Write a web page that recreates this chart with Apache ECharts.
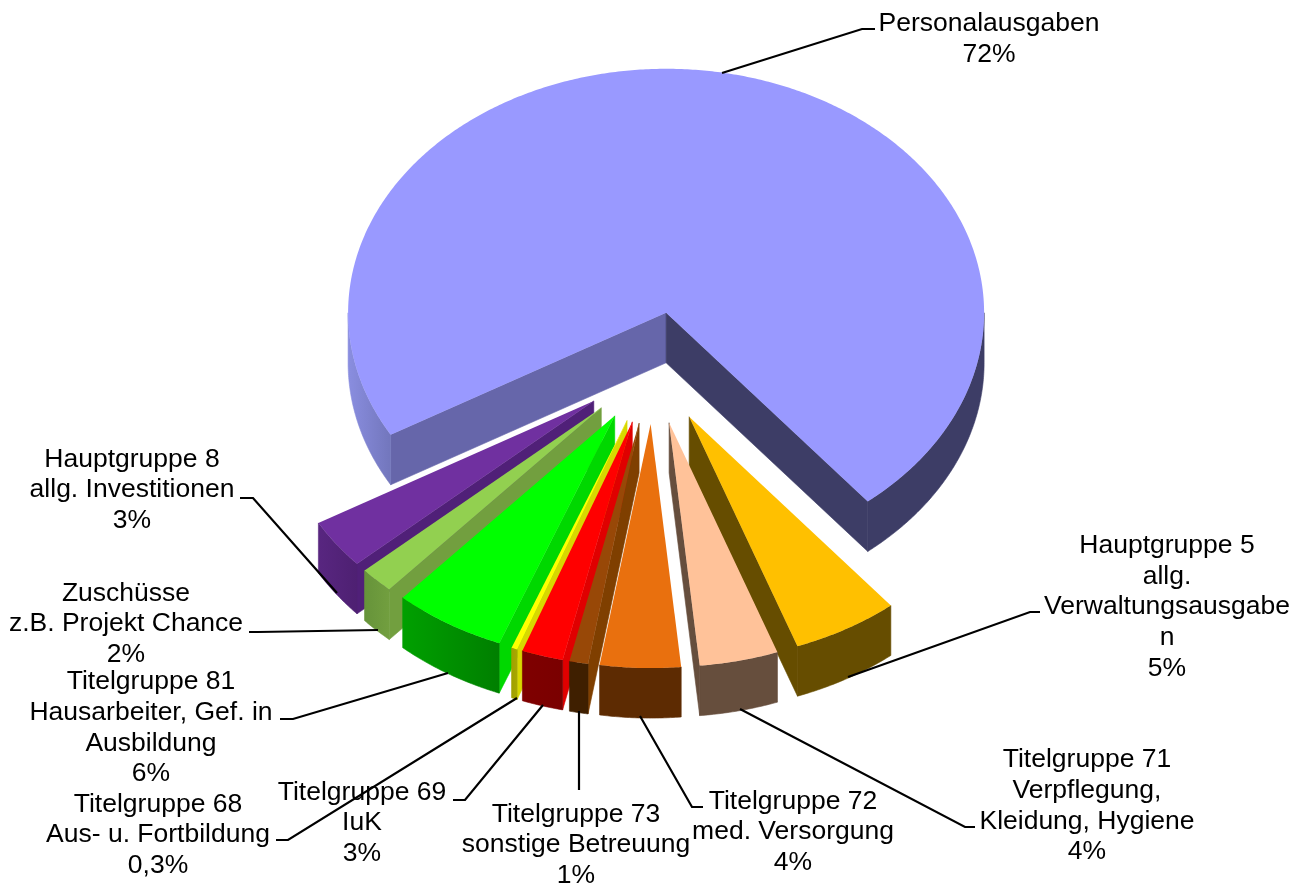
<!DOCTYPE html>
<html>
<head>
<meta charset="utf-8">
<title>Ausgaben</title>
<style>
  html, body { margin: 0; padding: 0; background: #fff; }
  #main { width: 1302px; height: 888px; }
</style>
</head>
<body>
<div id="main"></div>
<script src="https://cdn.jsdelivr.net/npm/echarts@6/dist/echarts.min.js"></script>
<script>
  // Anteile, von den Winkeln (im Uhrzeigersinn ab Personalausgaben)
  var categories = ['Personalausgaben', 'Hauptgruppe 5', 'Titelgruppe 71', 'Titelgruppe 72', 'Titelgruppe 73',
    'Titelgruppe 69', 'Titelgruppe 68', 'Titelgruppe 81', 'Zuschüsse', 'Hauptgruppe 8'];
  var values = [72.4, 5.4, 4.0, 4.1, 0.95, 2.1, 0.3, 5.7, 1.75, 3.3];
  var labelTexts = [
    'Personalausgaben\n72%',
    'Hauptgruppe 5\nallg.\nVerwaltungsausgabe\nn\n5%',
    'Titelgruppe 71\nVerpflegung,\nKleidung, Hygiene\n4%',
    'Titelgruppe 72\nmed. Versorgung\n4%',
    'Titelgruppe 73\nsonstige Betreuung\n1%',
    'Titelgruppe 69\nIuK\n3%',
    'Titelgruppe 68\nAus- u. Fortbildung\n0,3%',
    'Titelgruppe 81\nHausarbeiter, Gef. in\nAusbildung\n6%',
    'Zuschüsse\nz.B. Projekt Chance\n2%',
    'Hauptgruppe 8\nallg. Investitionen\n3%'
  ];

  // Farben
  var topColors = ['#9999FF', '#FFC000', '#FFC299', '#E9700E', '#984807', '#FF0000', '#FFFF00', '#00FF00', '#92D050', '#7030A0'];
  var sideStartColors = ['#6666AA', '#664D00', '#664E3D', '#5D2B02', '#7F3F00', '#E00000', '#D8D800', '#00D800', '#729F3F', '#502078'];
  var sideEndColors = ['#3D3D66', '#664D00', '#664E3D', '#5D2B02', '#7F3F00', '#E00000', '#D8D800', '#00D800', '#729F3F', '#502078'];
  var wallLeftColors = ['#8A8EE0', '#664D00', '#664E3D', '#5D2B02', '#3F1F00', '#7F0000', '#A0A000', '#00A000', '#66933A', '#582680'];
  var wallRightColors = ['#7276BC', '#664D00', '#664E3D', '#5D2B02', '#3F1F00', '#7A0000', '#A8A800', '#007F00', '#729F3F', '#4E2072'];

  // Lage der Torte
  var cx = 653, cy = 368, rx = 318, ry = 244, depth = 50, explode = 0.23;
  var startAngle = 240;

  // Beschriftung: Textmitte und Führungslinie
  var labelCenters = [[989, 39], [1167, 607], [1087, 806], [793, 832], [576, 845], [362, 823], [158, 835], [151, 728], [126, 624], [132, 490]];
  var leaders = [
    [[722, 73], [862, 29], [875, 29]],
    [[848, 677], [1030, 612], [1040, 612]],
    [[740, 709], [965, 827], [975, 827]],
    [[640, 716], [692, 807], [703, 807]],
    [[579, 711], [579, 790]],
    [[543, 705], [465, 800], [453, 800]],
    [[517, 698], [288, 840], [276, 840]],
    [[448, 673], [293, 719], [280, 719]],
    [[378, 630], [258, 632], [249, 632]],
    [[337, 593], [253, 498], [240, 498]]
  ];

  var total = values.reduce(function (a, b) { return a + b; }, 0);
  var starts = [];
  values.reduce(function (acc, v) { starts.push(acc); return acc + v; }, 0);

  function rad(d) { return d * Math.PI / 180; }

  // Punkt auf der Ellipse, Winkel im Uhrzeigersinn von oben
  function rim(c, a) {
    return [c[0] + rx * Math.sin(rad(a)), c[1] - ry * Math.cos(rad(a))];
  }

  function arc(c, a0, a1) {
    var pts = [];
    var n = Math.max(2, Math.ceil((a1 - a0) * 2));
    for (var i = 0; i <= n; i++) {
      pts.push(rim(c, a0 + (a1 - a0) * i / n));
    }
    return pts;
  }

  function down(pts) {
    return pts.map(function (p) { return [p[0], p[1] + depth]; });
  }

  // Schnittfläche sichtbar, wenn die Extrusion nicht zur Innenseite zeigt
  function sideVisible(apex, edge, inner) {
    var dx = edge[0] - apex[0], dy = edge[1] - apex[1];
    var crossInner = dx * (inner[1] - apex[1]) - dy * (inner[0] - apex[0]);
    var crossDown = dx * depth;
    return crossInner * crossDown < 0;
  }

  function poly(points, fill, z2) {
    return {
      type: 'polygon',
      z2: z2,
      shape: { points: points },
      style: { fill: fill, stroke: fill, lineWidth: 0.6 }
    };
  }

  function renderSlice(params, api) {
    var i = params.dataIndex;
    var a0 = startAngle + starts[i] / total * 360;
    var a1 = a0 + api.value(0) / total * 360;
    var mid = (a0 + a1) / 2;
    // nach vorn liegende Stücke zuletzt zeichnen
    var m = ((mid % 360) + 360) % 360;
    var z2 = 200 - Math.round(Math.abs(m - 180));
    var c = [cx + explode * rx * Math.sin(rad(mid)), cy - explode * ry * Math.cos(rad(mid))];
    var children = [];
    var p0 = rim(c, a0), p1 = rim(c, a1), pm = rim(c, mid);

    if (sideVisible(c, p0, pm)) {
      children.push(poly([c, p0, [p0[0], p0[1] + depth], [c[0], c[1] + depth]], sideStartColors[i], z2));
    }
    if (sideVisible(c, p1, pm)) {
      children.push(poly([c, p1, [p1[0], p1[1] + depth], [c[0], c[1] + depth]], sideEndColors[i], z2));
    }

    // Außenwand nur in der unteren Hälfte der Ellipse
    for (var k = 0; k < 3; k++) {
      var from = Math.max(a0, 90 + 360 * k);
      var to = Math.min(a1, 270 + 360 * k);
      if (to <= from) continue;
      var top = arc(c, from, to);
      var fill;
      if ((from + to) / 2 - 360 * k < 180) {
        fill = sideEndColors[i];
      } else {
        fill = new echarts.graphic.LinearGradient(0, 0, 1, 0, [
          { offset: 0, color: wallLeftColors[i] },
          { offset: 1, color: wallRightColors[i] }
        ]);
      }
      children.push(poly(top.concat(down(top).reverse()), fill, z2));
    }

    var face = [c].concat(arc(c, a0, a1));
    children.push({
      type: 'polygon',
      z2: z2 + 1,
      shape: { points: face },
      style: { fill: topColors[i] }
    });
    return { type: 'group', children: children };
  }

  var chart = echarts.init(document.getElementById('main'));

  var graphics = [];
  leaders.forEach(function (pts) {
    graphics.push({
      type: 'polyline',
      z: 10,
      silent: true,
      shape: { points: pts },
      style: { stroke: '#000', lineWidth: 2.2, fill: null }
    });
  });
  labelTexts.forEach(function (t, i) {
    graphics.push({
      type: 'text',
      z: 11,
      silent: true,
      x: labelCenters[i][0],
      y: labelCenters[i][1],
      style: {
        text: t,
        fill: '#000',
        align: 'center',
        verticalAlign: 'middle',
        font: '26.5px "Liberation Sans", Arial, sans-serif',
        lineHeight: 30.7
      }
    });
  });

  var option = {
    animation: false,
    backgroundColor: '#fff',
    graphic: graphics,
    series: [{
      type: 'custom',
      coordinateSystem: 'none',
      silent: true,
      renderItem: renderSlice,
      data: values.map(function (v, i) { return { name: categories[i], value: [v] }; })
    }]
  };
  chart.setOption(option);
</script>
</body>
</html>
